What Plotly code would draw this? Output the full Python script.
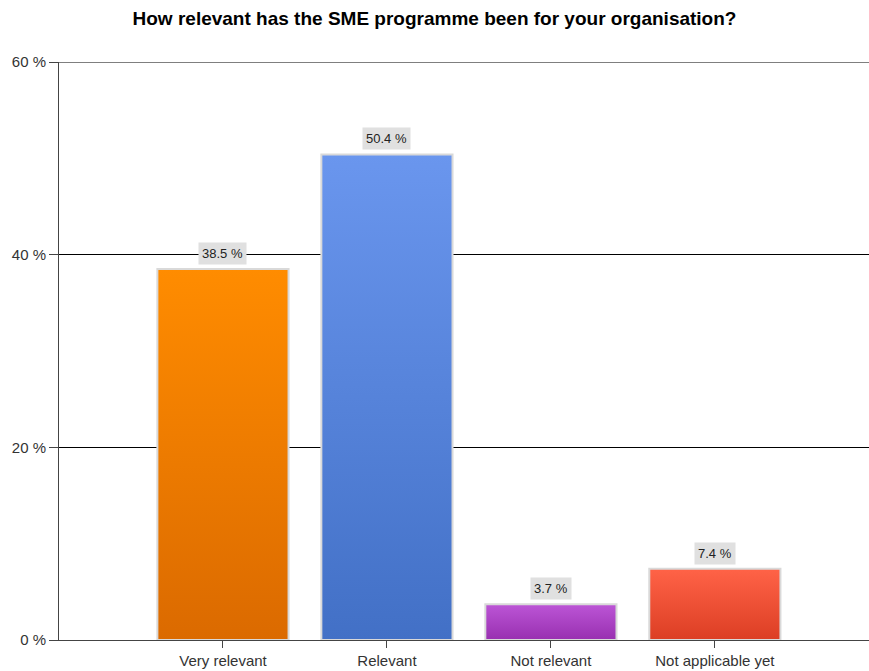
import plotly.graph_objects as go

# Survey answers and their shares (%)
categories = ["Very relevant", "Relevant", "Not relevant", "Not applicable yet"]
shares = [38.5, 50.4, 3.7, 7.4]
top_colors = ["#FF8C00", "#6A96EE", "#BC55D6", "#FF6347"]
bottom_colors = ["#DB6A00", "#4270C6", "#9830B0", "#DC3E24"]
y_ticks = [0, 20, 40, 60]
y_tick_labels = [f"{v} %" for v in y_ticks]

bar_width = 0.8
positions = list(range(len(categories)))
FONT = "Liberation Sans, Arial, sans-serif"

fig = go.Figure()

# Each bar is a filled rectangle with a vertical colour gradient
for pos, val, c_top, c_bot in zip(positions, shares, top_colors, bottom_colors):
    half = bar_width / 2
    fig.add_trace(go.Scatter(
        x=[pos - half, pos + half, pos + half, pos - half, pos - half],
        y=[0, 0, val, val, 0],
        mode="lines",
        fill="toself",
        line=dict(color="#D9D9D9", width=2),
        fillgradient=dict(type="vertical", start=0, stop=val,
                          colorscale=[[0, c_bot], [1, c_top]]),
        hoverinfo="skip",
        showlegend=False,
    ))

# Value labels in grey boxes above each bar
for pos, val in zip(positions, shares):
    fig.add_annotation(
        x=pos, y=val, text=f"{val} %", showarrow=False,
        yanchor="bottom", yshift=4,
        bgcolor="#E0E0E0", borderpad=3,
        font=dict(family=FONT, size=13, color="#222222"),
    )

# Gridline on the top edge of the value range
fig.add_shape(type="line", xref="paper", x0=0, x1=1, yref="y",
              y0=y_ticks[-1], y1=y_ticks[-1],
              line=dict(color="#000000", width=1), layer="above")

fig.update_layout(
    width=869, height=671,
    margin=dict(l=59, r=0, t=62, b=31),
    paper_bgcolor="white", plot_bgcolor="white",
    title=dict(
        text="<b>How relevant has the SME programme been for your organisation?</b>",
        x=0.5, xanchor="center", y=1 - 18 / 671, yanchor="middle",
        font=dict(family=FONT, size=19, color="#000000"),
    ),
    font=dict(family=FONT, size=14, color="#333333"),
    xaxis=dict(
        range=[-1.0, 3.94],
        tickvals=positions, ticktext=categories,
        showgrid=False, zeroline=False,
        showline=True, linecolor="#444444", linewidth=1,
        ticks="outside", ticklen=7, tickcolor="#444444",
        tickfont=dict(family=FONT, size=15, color="#333333"),
        fixedrange=True,
    ),
    yaxis=dict(
        range=[0, 60],
        tickvals=y_ticks, ticktext=y_tick_labels,
        showgrid=True, gridcolor="#000000", gridwidth=1,
        zeroline=False,
        showline=True, linecolor="#444444", linewidth=1,
        ticks="outside", ticklen=9, tickcolor="#444444",
        tickfont=dict(family=FONT, size=15, color="#333333"),
        fixedrange=True,
    ),
)

fig.write_html("out.html")
